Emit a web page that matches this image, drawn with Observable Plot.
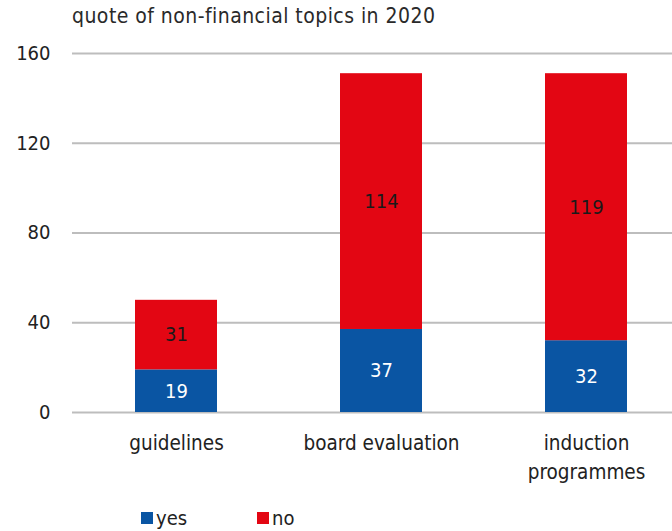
<!DOCTYPE html>
<html>
<head>
<meta charset="utf-8">
<script src="https://cdn.jsdelivr.net/npm/d3@7"></script>
<script src="https://cdn.jsdelivr.net/npm/@observablehq/plot@0.6"></script>
<style>
  body { margin: 0; background: #fff; }
  #wrap { position: relative; width: 672px; height: 531px; font-family: "DejaVu Sans Condensed", "Liberation Sans Narrow", sans-serif; color: #222; }
  #title { position: absolute; left: 72px; top: 4px; font-size: 21px; letter-spacing: 0.45px; white-space: nowrap; color: #2a2a2a; }
  #legend { position: absolute; left: 141px; top: 506px; font-size: 20px; display: flex; gap: 0; color: #222; }
  #legend .item { display: flex; align-items: center; margin-right: 70px; }
  #legend .sw { width: 12px; height: 12px; display: inline-block; margin-right: 3px; }
  #chart { position: absolute; left: 0; top: 0; }
</style>
</head>
<body>
<div id="wrap">
  <div id="chart"></div>
  <div id="title"></div>
  <div id="legend"></div>
</div>
<script>
const titleText = "quote of non-financial topics in 2020";
const categories = ["guidelines", "board evaluation", "induction programmes"];
const categoryLabels = ["guidelines", "board evaluation", "induction\nprogrammes"];
const seriesNames = ["yes", "no"];
const yesValues = [19, 37, 32];
const noValues = [31, 114, 119];
const yTicks = [0, 40, 80, 120, 160];
const colors = ["#0a55a3", "#e30613"];

const data = [];
categories.forEach((c, i) => {
  data.push({category: c, series: "yes", value: yesValues[i]});
  data.push({category: c, series: "no", value: noValues[i]});
});

document.getElementById("title").textContent = titleText;
const legend = document.getElementById("legend");
seriesNames.forEach((s, i) => {
  const it = document.createElement("div");
  it.className = "item";
  const sw = document.createElement("span");
  sw.className = "sw";
  sw.style.background = colors[i];
  it.appendChild(sw);
  it.appendChild(document.createTextNode(s));
  legend.appendChild(it);
});

const labelMap = new Map(categories.map((c, i) => [c, categoryLabels[i]]));

const chart = Plot.plot({
  width: 672,
  height: 531,
  marginTop: 53,
  marginBottom: 119,
  marginLeft: 72,
  marginRight: 0,
  style: {fontFamily: "DejaVu Sans Condensed, Liberation Sans Narrow, sans-serif", fontSize: "18px", color: "#222", background: "#fff"},
  x: {domain: categories, range: [73, 688], paddingInner: 0.6, paddingOuter: 0.3, label: null},
  y: {domain: [0, 160], ticks: yTicks, label: null},
  color: {domain: seriesNames, range: colors},
  marks: [
    Plot.ruleY(yTicks, {stroke: "#bdbdbd", strokeWidth: 2}),
    Plot.barY(data, Plot.stackY({x: "category", y: "value", fill: "series", order: seriesNames})),
    Plot.text(data, Plot.stackY({x: "category", y: "value", z: "series", order: seriesNames,
      text: d => String(d.value), fill: d => d.series === "yes" ? "#ffffff" : "#1a1a1a", fontSize: 20})),
    Plot.axisY({ticks: yTicks, tickSize: 0, tickPadding: 22, fontSize: 20, label: null}),
    Plot.axisX({tickSize: 0, tickPadding: 17, fontSize: 20.5, label: null, tickFormat: d => labelMap.get(d), lineHeight: 1.42})
  ]
});
document.getElementById("chart").appendChild(chart);
</script>
</body>
</html>
